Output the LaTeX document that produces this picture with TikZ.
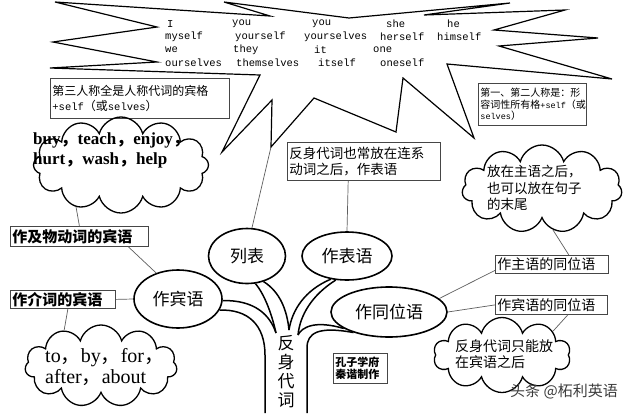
\documentclass[tikz,border=0pt]{standalone}
\usepackage{fontspec}
\setmainfont{Liberation Serif}
\newfontfamily\cjk{Noto Sans CJK SC}
\newfontfamily\monof{Liberation Mono}
\usetikzlibrary{calc,shapes.geometric,shapes.symbols}
\definecolor{boxline}{RGB}{70,70,70}
\definecolor{linkgray}{RGB}{95,95,95}
\definecolor{wmgray}{RGB}{60,60,60}
\newcommand{\fc}{{\cjk ，}}

\begin{document}
\begin{tikzpicture}[x=1pt, y=-1pt,
  notebox/.style={draw=boxline, line width=0.8pt, anchor=north west, align=left,
                  inner xsep=2pt, inner ysep=0pt},
  keyell/.style={draw, ellipse, line width=1.6pt, inner sep=0pt,
                 font=\cjk\fontsize{17}{17}\selectfont},
  puff/.style={draw, cloud, cloud puffs=11, cloud ignores aspect, line width=1.3pt, inner sep=0pt},
  puffnote/.style={anchor=west, inner sep=0pt, align=left},
  word/.style={anchor=west, inner sep=0pt, font=\monof\fontsize{10.5}{12}\selectfont},
  link/.style={draw=linkgray, line width=0.7pt},
  limb/.style={line width=1.5pt}]
  \fill[white] (0,0) rectangle (640,413);
  \useasboundingbox (0,0) rectangle (640,413);

  % speech burst with the pronoun table
  \draw[line width=1.2pt]
    (55,2) -- (270,16) -- (224,2) -- (349,18) -- (510,3) -- (424,15) -- (565,10)
    -- (494,30) -- (598,38) -- (499,46) -- (612,79) -- (447,64) -- (474,138)
    -- (403,78) -- (396,132) -- (314,98) -- (271,147) -- (272,100) -- (222,152)
    -- (260,75) -- (50,68) -- (157,62) -- (53,42) -- (157,27) -- cycle;
  \coordinate (bursttip) at (271,147);
  \foreach \wx/\wy/\wt [count=\i] in {167/24/I, 232/24/you, 312/24/you, 386/24/she, 447/24/he,
      165/37/myself, 235/37/yourself, 304/37/yourselves, 380/37/herself, 437/37/himself,
      165/50/we, 233/50/they, 314/50/it, 373/50/one,
      165/63/ourselves, 236/63/themselves, 318/63/itself, 380/63/oneself}
    \node[word] (w\i) at (\wx,\wy) {\wt};

  % note boxes
  \node[notebox, text width=175pt, minimum height=40pt, font=\cjk\fontsize{12}{15}\selectfont]
    (thirdbox) at (50,78) {第三人称全是人称代词的宾格\\{\monof\fontsize{10.5}{15}\selectfont +self}（或{\monof\fontsize{10.5}{15}\selectfont selves}）};
  \node[notebox, text width=104pt, minimum height=42pt, font=\cjk\fontsize{10}{11.5}\selectfont]
    (firstbox) at (478,83) {第一、第二人称是：形\\容词性所有格{\monof\fontsize{8.5}{11.5}\selectfont +self}（或\\{\monof\fontsize{8.5}{11.5}\selectfont selves}）};
  \node[notebox, text width=149pt, minimum height=38pt, font=\cjk\fontsize{13.5}{16}\selectfont]
    (predbox) at (287,142) {反身代词也常放在连系\\动词之后，作表语};
  \node[notebox, text width=134pt, minimum height=20pt, font=\cjk\bfseries\fontsize{15}{15}\selectfont]
    (vtbox) at (10,226) {作及物动词的宾语};
  \node[notebox, text width=101pt, minimum height=18pt, font=\cjk\bfseries\fontsize{15}{15}\selectfont]
    (prepbox) at (10,290) {作介词的宾语};
  \node[notebox, text width=109pt, minimum height=18pt, font=\cjk\fontsize{14}{14}\selectfont]
    (subjbox) at (495,255) {作主语的同位语};
  \node[notebox, text width=108pt, minimum height=19pt, font=\cjk\fontsize{14}{14}\selectfont]
    (objbox) at (495,295) {作宾语的同位语};
  \node[notebox, text width=50pt, minimum height=30pt, font=\cjk\bfseries\fontsize{11}{12}\selectfont]
    (signbox) at (333,353) {孔子学府\\秦谐制作};

  % the four uses
  \node[keyell, minimum width=88pt, minimum height=58pt] (objell) at (178,299) {作宾语};
  \node[keyell, minimum width=77pt, minimum height=55pt] (listell) at (247,256) {列表};
  \node[keyell, minimum width=90pt, minimum height=48pt] (predell) at (347,256) {作表语};
  \node[keyell, minimum width=116pt, minimum height=50pt] (apposell) at (389,312) {作同位语};

  % clouds
  \node[puff, cloud puffs=12, minimum width=175pt, minimum height=96pt] (vtcloud) at (121,165) {};
  \node[puffnote, font=\bfseries\fontsize{17}{20}\selectfont] (vttxt) at (33,150)
    {buy\fc teach\fc enjoy\fc\\hurt\fc wash\fc help};
  \node[puff, minimum width=152pt, minimum height=82pt] (prepcloud) at (101,366) {};
  \node[puffnote, font=\fontsize{20}{21}\selectfont] (preptxt) at (45,367.5)
    {to\fc by\fc for\fc\\after\fc about};
  \node[puff, minimum width=160pt, minimum height=88pt] (apposcloud) at (542,189) {};
  \node[puffnote, font=\cjk\fontsize{13.5}{16.5}\selectfont] (appostxt) at (487,188)
    {放在主语之后，\\也可以放在句子\\的末尾};
  \node[puff, cloud puffs=10, minimum width=137pt, minimum height=75pt] (onlycloud) at (502,355) {};
  \node[puffnote, font=\cjk\fontsize{14}{16}\selectfont] (onlytxt) at (455,354)
    {反身代词只能放\\在宾语之后};

  % trunk of the tree
  \node[inner sep=0pt, align=center, font=\cjk\fontsize{17}{19}\selectfont] (trunk) at (286,372)
    {反\\身\\代\\词};
  \draw[limb] (objell.-15) .. controls (248,309) and (265,325) .. (265,355) -- (265,413);
  \draw[limb] (objell.-2) .. controls (255,300) and (270,315) .. (276,333);
  \draw[limb] (listell.-73) .. controls (265,295) and (272,315) .. (276,333);
  \draw[limb] (listell.-57) .. controls (280,292) and (287,310) .. (289,330);
  \draw[limb] (predell.-125) .. controls (305,290) and (292,310) .. (289,330);
  \draw[limb] (predell.-115) .. controls (312,295) and (300,315) .. (298,335);
  \draw[limb] (apposell.-160) .. controls (315,320) and (302,327) .. (298,335);
  \draw[limb] (apposell.-150) .. controls (318,326) and (307,333) .. (307,348) -- (307,413);

  % thin links
  \draw[link] (vtcloud.223) -- (vtbox.north);
  \draw[link] (vtbox.-12) -- (objell.130);
  \draw[link] (prepbox.east) -- (objell.west);
  \draw[link] (prepbox.-62) -- (prepcloud.136);
  \draw[link] (listell.80) -- (bursttip);
  \draw[link] (predbox.-129) -- (predell.north);
  \draw[link] (apposell.15) -- (subjbox.186);
  \draw[link] (apposell.east) -- (objbox.west);
  \draw[link] (apposcloud.-75) -- (subjbox.29);
  \draw[link] (objbox.-31) -- (onlycloud.25);

  \node[anchor=west, inner sep=0pt, text=wmgray, font=\cjk\fontsize{15}{15}\selectfont]
    (mark) at (510,391) {头条 @柘利英语};
\end{tikzpicture}
\end{document}
